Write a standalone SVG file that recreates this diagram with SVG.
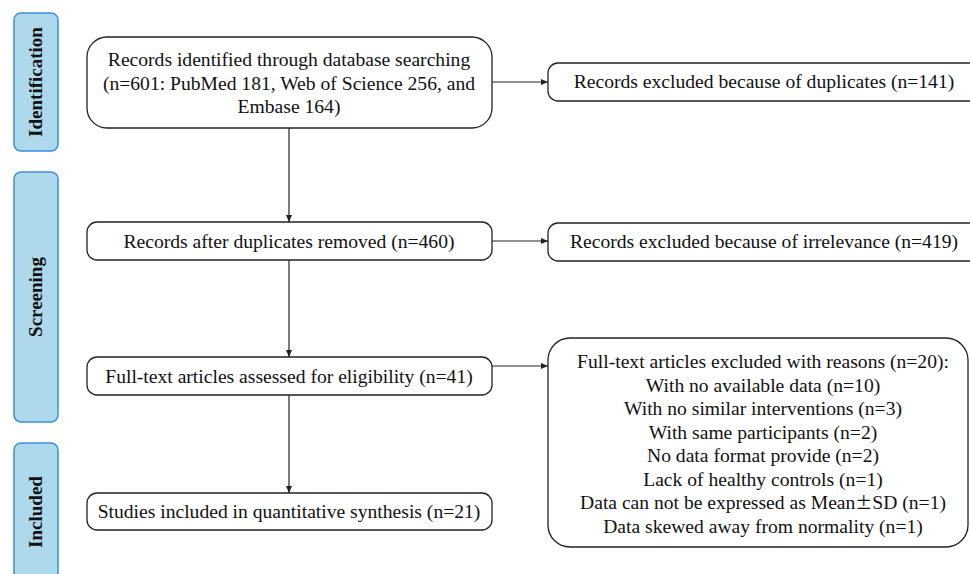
<svg xmlns="http://www.w3.org/2000/svg" width="970" height="574" viewBox="0 0 970 574">
<defs>
<marker id="arr" markerWidth="8" markerHeight="8" refX="7" refY="4" orient="auto" markerUnits="userSpaceOnUse">
<path d="M0,1 L7,4 L0,7 Z" fill="#222"/>
</marker>
<style>
.stage{fill:#aed8ec;stroke:#3d8ee0;stroke-width:1.5}
.stxt{font-family:"Liberation Serif","Times New Roman",serif;font-weight:bold;font-size:19px;fill:#111;text-anchor:middle}
.box{fill:#fff;stroke:#222;stroke-width:1.3}
.txt{font-family:"Liberation Serif","Times New Roman",serif;font-size:19.6px;fill:#111;text-anchor:middle}
.cjk{font-family:"Noto Sans CJK SC",sans-serif;font-size:17px}
.con{stroke:#222;stroke-width:1.2;fill:none;marker-end:url(#arr)}
</style>
</defs>
<rect width="970" height="574" fill="#fff"/>
<g id="stage-identification">
<rect class="stage" x="14" y="13" width="44" height="138" rx="7"/>
<text class="stxt" transform="translate(42,82) rotate(-90)">Identification</text>
</g>
<g id="stage-screening">
<rect class="stage" x="14" y="172" width="44" height="250" rx="7"/>
<text class="stxt" transform="translate(42,297) rotate(-90)">Screening</text>
</g>
<g id="stage-included">
<rect class="stage" x="14" y="443" width="44" height="150" rx="7"/>
<text class="stxt" transform="translate(42,512) rotate(-90)">Included</text>
</g>
<g id="connectors">
<line class="con" x1="289" y1="128" x2="289" y2="222"/>
<line class="con" x1="289" y1="260" x2="289" y2="357"/>
<line class="con" x1="289" y1="395" x2="289" y2="493"/>
<line class="con" x1="492" y1="82" x2="548" y2="82"/>
<line class="con" x1="492" y1="241" x2="548" y2="241"/>
<line class="con" x1="492" y1="366" x2="548" y2="366"/>
</g>
<g id="identified">
<rect class="box" x="87" y="37" width="405" height="91" rx="20"/>
<text class="txt" x="289" y="66">Records identified through database searching</text>
<text class="txt" x="289" y="89.5">(n=601: PubMed 181, Web of Science 256, and</text>
<text class="txt" x="289" y="113">Embase 164)</text>
</g>
<g id="after-duplicates">
<rect class="box" x="87" y="222" width="405" height="38" rx="10"/>
<text class="txt" x="289" y="247.5">Records after duplicates removed (n=460)</text>
</g>
<g id="full-text">
<rect class="box" x="87" y="357" width="405" height="38" rx="10"/>
<text class="txt" x="289" y="382.5">Full-text articles assessed for eligibility (n=41)</text>
</g>
<g id="included">
<rect class="box" x="87" y="493" width="405" height="37" rx="10"/>
<text class="txt" x="289" y="518">Studies included in quantitative synthesis (n=21)</text>
</g>
<g id="excluded-duplicates">
<rect class="box" x="548" y="63" width="440" height="38" rx="10"/>
<text class="txt" x="764" y="88">Records excluded because of duplicates (n=141)</text>
</g>
<g id="excluded-irrelevance">
<rect class="box" x="548" y="223" width="440" height="38" rx="10"/>
<text class="txt" x="764" y="248">Records excluded because of irrelevance (n=419)</text>
</g>
<g id="excluded-reasons">
<rect class="box" x="548" y="338" width="420" height="209" rx="22"/>
<text class="txt" x="763" y="368">Full-text articles excluded with reasons (n=20):</text>
<text class="txt" x="763" y="391.5">With no available data (n=10)</text>
<text class="txt" x="763" y="415">With no similar interventions (n=3)</text>
<text class="txt" x="763" y="438.5">With same participants (n=2)</text>
<text class="txt" x="763" y="462">No data format provide (n=2)</text>
<text class="txt" x="763" y="485.5">Lack of healthy controls (n=1)</text>
<text class="txt" x="763" y="509">Data can not be expressed as Mean<tspan class="cjk">±</tspan>SD (n=1)</text>
<text class="txt" x="763" y="532.5">Data skewed away from normality (n=1)</text>
</g>
</svg>
